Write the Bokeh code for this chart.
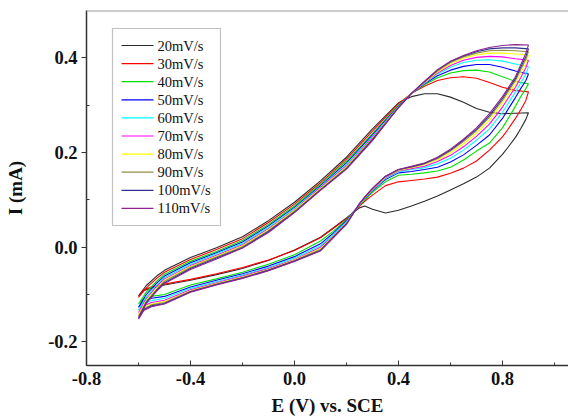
from bokeh.plotting import figure
from bokeh.models import FixedTicker, Span, NumeralTickFormatter, BoxAnnotation, Label
from bokeh.embed import file_html
from bokeh.resources import INLINE

# Potential grids (V vs. SCE)
E_fwd = [-0.6, -0.57, -0.53, -0.5, -0.4, -0.3, -0.2, -0.1, 0.0, 0.1, 0.2, 0.3,
         0.4, 0.45, 0.5, 0.55, 0.6, 0.65, 0.7, 0.75, 0.8, 0.85, 0.9]
E_rev = [0.9, 0.89, 0.87, 0.85, 0.82, 0.8, 0.75, 0.7, 0.65, 0.6, 0.55, 0.5, 0.45,
         0.4, 0.35, 0.3, 0.27, 0.25, 0.2, 0.15, 0.1, 0.0, -0.1, -0.2, -0.3, -0.4,
         -0.5, -0.55, -0.58, -0.6]

labels = ["20mV/s", "30mV/s", "40mV/s", "50mV/s", "60mV/s", "70mV/s",
          "80mV/s", "90mV/s", "100mV/s", "110mV/s"]
colors = ["#2a2a2a", "#ff0000", "#00e000", "#0000ff", "#00ffff", "#ff00ff",
          "#ffff00", "#909040", "#303090", "#902090"]

# Currents (mA), forward sweep
I_fwd_20 = [-0.103, -0.081, -0.061, -0.049, -0.022, -0.001, 0.022, 0.056, 0.095, 0.140, 0.190, 0.250, 0.305, 0.318, 0.324, 0.324, 0.317, 0.306, 0.293, 0.285, 0.282, 0.283, 0.284]
I_fwd_30 = [-0.106, -0.086, -0.066, -0.053, -0.026, -0.005, 0.018, 0.052, 0.091, 0.136, 0.186, 0.245, 0.303, 0.325, 0.340, 0.352, 0.358, 0.360, 0.357, 0.348, 0.338, 0.331, 0.328]
I_fwd_40 = [-0.120, -0.095, -0.072, -0.057, -0.030, -0.009, 0.014, 0.048, 0.087, 0.133, 0.182, 0.240, 0.300, 0.325, 0.343, 0.358, 0.368, 0.373, 0.374, 0.370, 0.360, 0.350, 0.345]
I_fwd_50 = [-0.127, -0.100, -0.076, -0.061, -0.033, -0.012, 0.011, 0.045, 0.084, 0.130, 0.178, 0.237, 0.298, 0.325, 0.345, 0.362, 0.374, 0.382, 0.386, 0.386, 0.380, 0.372, 0.366]
I_fwd_60 = [-0.133, -0.105, -0.080, -0.064, -0.036, -0.014, 0.008, 0.042, 0.082, 0.128, 0.175, 0.234, 0.297, 0.325, 0.346, 0.366, 0.380, 0.390, 0.395, 0.396, 0.393, 0.387, 0.381]
I_fwd_70 = [-0.138, -0.109, -0.083, -0.067, -0.039, -0.017, 0.005, 0.039, 0.079, 0.126, 0.172, 0.232, 0.296, 0.325, 0.347, 0.368, 0.384, 0.395, 0.401, 0.403, 0.402, 0.398, 0.395]
I_fwd_80 = [-0.142, -0.112, -0.086, -0.070, -0.041, -0.019, 0.003, 0.037, 0.078, 0.124, 0.170, 0.230, 0.296, 0.325, 0.348, 0.370, 0.387, 0.399, 0.406, 0.410, 0.410, 0.408, 0.406]
I_fwd_90 = [-0.146, -0.115, -0.089, -0.072, -0.043, -0.021, 0.001, 0.035, 0.076, 0.122, 0.168, 0.229, 0.295, 0.325, 0.349, 0.372, 0.390, 0.402, 0.410, 0.415, 0.416, 0.415, 0.413]
I_fwd_100 = [-0.149, -0.117, -0.091, -0.075, -0.045, -0.023, -0.001, 0.033, 0.074, 0.121, 0.166, 0.227, 0.295, 0.325, 0.350, 0.374, 0.392, 0.404, 0.413, 0.419, 0.421, 0.421, 0.419]
I_fwd_110 = [-0.152, -0.119, -0.093, -0.077, -0.047, -0.025, -0.002, 0.031, 0.073, 0.120, 0.165, 0.225, 0.295, 0.325, 0.350, 0.375, 0.393, 0.405, 0.415, 0.422, 0.426, 0.428, 0.427]

# Currents (mA), reverse sweep
I_rev_20 = [0.284, 0.270, 0.250, 0.232, 0.210, 0.196, 0.167, 0.148, 0.134, 0.121, 0.108, 0.097, 0.087, 0.078, 0.072, 0.080, 0.087, 0.083, 0.062, 0.041, 0.021, -0.006, -0.028, -0.045, -0.058, -0.070, -0.080, -0.086, -0.092, -0.103]
I_rev_30 = [0.328, 0.310, 0.290, 0.272, 0.248, 0.233, 0.205, 0.182, 0.167, 0.156, 0.148, 0.144, 0.141, 0.138, 0.130, 0.110, 0.097, 0.087, 0.060, 0.040, 0.020, -0.007, -0.027, -0.043, -0.056, -0.068, -0.078, -0.084, -0.090, -0.106]
I_rev_40 = [0.345, 0.335, 0.318, 0.298, 0.270, 0.252, 0.220, 0.203, 0.184, 0.169, 0.161, 0.157, 0.154, 0.152, 0.138, 0.116, 0.100, 0.089, 0.058, 0.034, 0.013, -0.016, -0.036, -0.053, -0.067, -0.080, -0.100, -0.104, -0.109, -0.120]
I_rev_50 = [0.366, 0.352, 0.335, 0.316, 0.290, 0.272, 0.237, 0.215, 0.195, 0.180, 0.169, 0.164, 0.160, 0.157, 0.143, 0.119, 0.102, 0.090, 0.056, 0.030, 0.007, -0.020, -0.040, -0.056, -0.070, -0.084, -0.104, -0.108, -0.114, -0.127]
I_rev_60 = [0.381, 0.366, 0.347, 0.328, 0.302, 0.285, 0.250, 0.226, 0.205, 0.188, 0.176, 0.168, 0.164, 0.159, 0.145, 0.120, 0.103, 0.090, 0.054, 0.027, 0.003, -0.023, -0.043, -0.059, -0.073, -0.087, -0.108, -0.113, -0.119, -0.133]
I_rev_70 = [0.395, 0.379, 0.358, 0.338, 0.313, 0.296, 0.260, 0.234, 0.212, 0.194, 0.181, 0.171, 0.166, 0.161, 0.147, 0.121, 0.104, 0.091, 0.052, 0.024, 0.000, -0.026, -0.045, -0.061, -0.075, -0.090, -0.112, -0.117, -0.124, -0.138]
I_rev_80 = [0.406, 0.390, 0.368, 0.346, 0.321, 0.305, 0.268, 0.241, 0.218, 0.199, 0.184, 0.174, 0.168, 0.162, 0.148, 0.122, 0.104, 0.091, 0.051, 0.023, -0.003, -0.027, -0.047, -0.063, -0.077, -0.092, -0.115, -0.120, -0.127, -0.142]
I_rev_90 = [0.413, 0.397, 0.375, 0.352, 0.327, 0.310, 0.274, 0.246, 0.223, 0.203, 0.187, 0.176, 0.169, 0.163, 0.149, 0.123, 0.105, 0.092, 0.050, 0.022, -0.005, -0.028, -0.048, -0.064, -0.078, -0.093, -0.117, -0.122, -0.130, -0.146]
I_rev_100 = [0.419, 0.403, 0.380, 0.356, 0.331, 0.314, 0.278, 0.249, 0.226, 0.205, 0.189, 0.177, 0.170, 0.164, 0.150, 0.124, 0.105, 0.092, 0.049, 0.021, -0.007, -0.029, -0.049, -0.065, -0.079, -0.094, -0.119, -0.124, -0.132, -0.149]
I_rev_110 = [0.427, 0.410, 0.385, 0.360, 0.335, 0.318, 0.282, 0.252, 0.228, 0.207, 0.190, 0.178, 0.171, 0.164, 0.150, 0.124, 0.106, 0.092, 0.048, 0.020, -0.008, -0.030, -0.050, -0.066, -0.080, -0.095, -0.120, -0.126, -0.134, -0.152]

x_major = [-0.8, -0.4, 0.0, 0.4, 0.8]
x_minor = [-0.6, -0.2, 0.2, 0.6, 1.0]
y_major = [-0.2, 0.0, 0.2, 0.4]
y_minor = [-0.1, 0.1, 0.3]

fwd = [I_fwd_20, I_fwd_30, I_fwd_40, I_fwd_50, I_fwd_60, I_fwd_70, I_fwd_80,
       I_fwd_90, I_fwd_100, I_fwd_110]
rev = [I_rev_20, I_rev_30, I_rev_40, I_rev_50, I_rev_60, I_rev_70, I_rev_80,
       I_rev_90, I_rev_100, I_rev_110]

p = figure(width=568, height=419, x_range=(-0.8, 1.054), y_range=(-0.25, 0.5),
           output_backend="svg", toolbar_location=None,
           min_border_left=86, min_border_right=0, min_border_top=10,
           min_border_bottom=54)
p.outline_line_color = None
p.grid.visible = False
p.background_fill_color = "white"
p.border_fill_color = "white"

for col, f, r in zip(colors, fwd, rev):
    p.line(E_fwd + E_rev, f + r, line_color=col, line_width=1.1)

# Legend drawn from annotations (screen units, measured from the frame's bottom-left)
LEG_L, LEG_R, LEG_B, LEG_T = 26, 134, 140, 337
ROW0, ROW = 320, 18.1
SW_L, SW_R, TXT_X = 35, 67, 71
p.add_layout(BoxAnnotation(left=LEG_L, right=LEG_R, bottom=LEG_B, top=LEG_T,
                           left_units="screen", right_units="screen",
                           bottom_units="screen", top_units="screen",
                           fill_color="white", fill_alpha=1.0,
                           line_color="#333333", line_width=1.2))
for i, (lab, col) in enumerate(zip(labels, colors)):
    cy = ROW0 - i * ROW
    p.add_layout(BoxAnnotation(left=SW_L, right=SW_R, bottom=cy - 0.6, top=cy + 0.6,
                               left_units="screen", right_units="screen",
                               bottom_units="screen", top_units="screen",
                               fill_color=col, fill_alpha=1.0, line_alpha=0))
    p.add_layout(Label(x=TXT_X, y=cy, x_units="screen", y_units="screen", text=lab,
                       text_font="Liberation Serif", text_font_size="14.5px",
                       text_color="#111111", text_baseline="middle", text_align="left"))

p.add_layout(Span(location=0.5, dimension="width", line_color="#999999", line_width=2))

font = "Liberation Serif"
for ax in (p.xaxis[0], p.yaxis[0]):
    ax.axis_line_color = "#333333"
    ax.axis_line_width = 1.5
    ax.major_tick_line_color = "#333333"
    ax.minor_tick_line_color = "#333333"
    ax.major_label_text_font = font
    ax.major_label_text_font_style = "bold"
    ax.major_label_text_font_size = "18.5px"
    ax.major_label_text_color = "#111111"
    ax.axis_label_text_font = font
    ax.axis_label_text_font_style = "bold"
    ax.axis_label_text_font_size = "19px"
    ax.axis_label_text_color = "#111111"
    ax.formatter = NumeralTickFormatter(format="0.0")

p.xaxis.ticker = FixedTicker(ticks=x_major, minor_ticks=x_minor)
p.yaxis.ticker = FixedTicker(ticks=y_major, minor_ticks=y_minor)
p.xaxis.major_tick_in = 5
p.xaxis.major_tick_out = 0
p.xaxis.minor_tick_in = 3
p.xaxis.minor_tick_out = 0
p.yaxis.major_tick_in = 0
p.yaxis.major_tick_out = 5
p.yaxis.minor_tick_in = 3
p.yaxis.minor_tick_out = 0
p.xaxis.major_label_standoff = 6
p.yaxis.major_label_standoff = 4
p.xaxis.axis_label = "E (V) vs. SCE"
p.yaxis.axis_label = "I (mA)"
p.xaxis.axis_label_standoff = 7
p.yaxis.axis_label_standoff = 19

open("out.html", "w").write(file_html(p, INLINE))
